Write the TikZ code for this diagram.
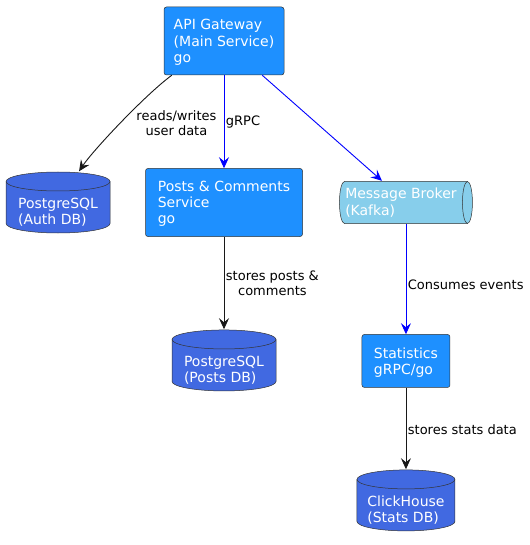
\documentclass[tikz,border=0pt]{standalone}
\usepackage{fontspec}
\setmainfont{DejaVu Sans}
\usepackage{xcolor}
\usetikzlibrary{shapes,arrows,positioning,calc,arrows.meta}

\definecolor{svcblue}{HTML}{1E90FF}
\definecolor{dbblue}{HTML}{4169E1}
\definecolor{mqblue}{HTML}{87CEEB}
\definecolor{edgeblack}{HTML}{181818}
\definecolor{rpcblue}{HTML}{0000FF}
\definecolor{outline}{HTML}{333333}

\newcommand{\boxfont}{\fontsize{14}{16.3}\selectfont}
\newcommand{\lblfont}{\fontsize{13}{15}\selectfont}

\tikzset{
  service/.style={rectangle, draw=outline, fill=svcblue, rounded corners=2.5pt,
    line width=0.5pt, text=white, font=\boxfont, align=left, inner sep=0pt,
    text depth=-1.5pt},
  svctext/.style={text=white, font=\boxfont, align=left, inner sep=0pt},
  % cylinder drawn inside the node, #1 = x radius
  database/.style={rectangle, minimum width=2*#1+1pt, minimum height=62pt, inner sep=0pt,
    path picture={
      \path [draw=outline, fill=dbblue, line width=0.5pt]
        ($(path picture bounding box.north west)+(0.5pt,-10pt)$)
        -- ($(path picture bounding box.south west)+(0.5pt,10pt)$)
        arc [start angle=180, end angle=360, x radius=#1, y radius=9.5pt]
        -- ($(path picture bounding box.north east)+(-0.5pt,-10pt)$)
        arc [start angle=0, end angle=180, x radius=#1, y radius=9.5pt]
        -- cycle;
      \draw [outline, line width=0.5pt]
        ($(path picture bounding box.north west)+(0.5pt,-10pt)$)
        arc [start angle=180, end angle=360, x radius=#1, y radius=9.5pt];
    }},
  queue/.style={rectangle, minimum width=134pt, minimum height=43pt, inner sep=0pt,
    path picture={
      \path [draw=outline, fill=mqblue, line width=0.5pt]
        ($(path picture bounding box.north west)+(5.5pt,-0.5pt)$)
        -- ($(path picture bounding box.north east)+(-5.5pt,-0.5pt)$)
        arc [start angle=90, end angle=-90, x radius=5pt, y radius=21pt]
        -- ($(path picture bounding box.south west)+(5.5pt,0.5pt)$)
        arc [start angle=270, end angle=90, x radius=5pt, y radius=21pt]
        -- cycle;
      \draw [outline, line width=0.5pt]
        ($(path picture bounding box.north east)+(-5.5pt,-0.5pt)$)
        arc [start angle=90, end angle=270, x radius=5pt, y radius=21pt];
    }},
  flow/.style={-{Stealth[length=11pt,width=10pt,inset=4pt]}, line width=0.9pt, edgeblack},
  rpc/.style={flow, rpcblue},
  lbl/.style={font=\lblfont, align=center, inner sep=1.5pt, text=black}
}

\begin{document}
\begin{tikzpicture}[x=1pt, y=-1pt]
    \useasboundingbox (0,0) rectangle (529,545);

    \node [service, minimum width=120pt, minimum height=68pt] (gateway) at (224,41) {API Gateway\\(Main Service)\\go};
    \node [service, below=93pt of gateway, minimum width=157pt, minimum height=68pt] (posts) {Posts \& Comments\\Service\\go};
    \node [database=52pt, left=34.5pt of posts, label={[svctext, yshift=-10pt]center:PostgreSQL\\(Auth DB)}] (authdb) {};
    \node [queue, right=36pt of posts, label={[svctext, xshift=-5pt]center:Message Broker\\(Kafka)}] (broker) {};
    \node [database=52pt, below=92.5pt of posts, label={[svctext, yshift=-10pt]center:PostgreSQL\\(Posts DB)}] (postsdb) {};
    \node [service, below=110pt of broker, minimum width=88pt, minimum height=53pt] (stats) {Statistics\\gRPC/go};
    \node [database=49pt, below=81.5pt of stats, label={[svctext, yshift=-10pt]center:ClickHouse\\(Stats DB)}] (statsdb) {};

    \draw [flow] ($(gateway.south west)+(8pt,0)$) .. controls +(-27,20) and +(14,-21) .. node[lbl, anchor=west, xshift=14pt] {reads/writes\\user data} ($(authdb.north)+(21pt,0)$);
    \draw [rpc] (gateway) -- node[lbl, anchor=west] {gRPC} (posts);
    \draw [rpc] ($(gateway.south east)+(-22pt,0)$) -- ($(broker.north)+(-24pt,0)$);
    \draw [flow] (posts) -- node[lbl, anchor=west] {stores posts \&\\comments} (postsdb);
    \draw [rpc] (broker) -- node[lbl, anchor=west, pos=0.55] {Consumes events} (stats);
    \draw [flow] (stats) -- node[lbl, anchor=west, pos=0.52] {stores stats data} (statsdb);
\end{tikzpicture}
\end{document}
